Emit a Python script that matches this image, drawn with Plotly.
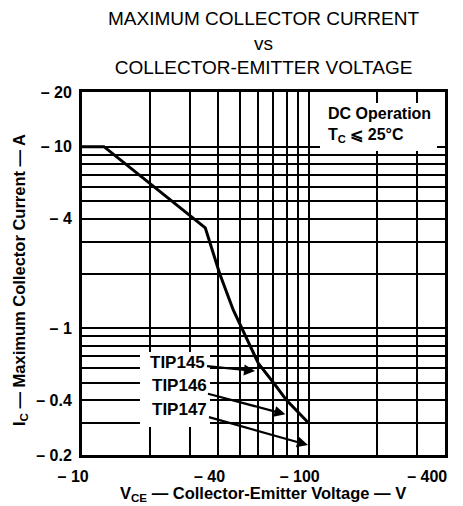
import numpy as np
import plotly.graph_objects as go

# ---- data ----
curve_v = [10, 12.5, 35, 40.5, 46.5, 50.7, 60, 70, 80, 100]          # |VCE| (V)
curve_i = [10, 10, 3.57, 2.0, 1.26, 1.0, 0.64, 0.5, 0.4, 0.3]       # |IC| (A)

device_names = ["TIP145", "TIP146", "TIP147"]
device_v = [58, 79, 99.4]
device_i = [0.58, 0.335, 0.227]

x_major = [10, 40, 100, 400]
x_major_labels = ["– 10", "– 40", "– 100", "– 400"]
x_minor = [20, 30, 50, 60, 70, 80, 90, 200, 300]
y_major = [0.2, 0.4, 1, 4, 10, 20]
y_major_labels = ["– 0.2", "– 0.4", "– 1", "– 4", "– 10", "– 20"]
y_minor = [0.3, 0.5, 0.6, 0.7, 0.8, 0.9, 2, 3, 5, 6, 7, 8, 9]

FONT = "Liberation Sans, Arial, Helvetica, sans-serif"
NB = "\u00a0"

# page body has an 8px margin: figure is shifted by (8, 8)
OFF = 8
FW, FH = 463 - OFF, 506 - OFF
L, T, W, H = 82 - OFF, 92 - OFF, 363, 363


def px(xp):
    return (xp - OFF - L) / W


def py(yp):
    return (T + H - (yp - OFF)) / H


fig = go.Figure()
fig.add_trace(go.Scatter(x=curve_v, y=curve_i, mode="lines",
                         line=dict(color="black", width=3), showlegend=False,
                         hoverinfo="skip"))

# right-pad the labels so the number (not the minus sign) sits on the grid line;
# the last one is padded more so that it stays inside the page
pads = [4, 4, 4, 8]
grid = dict(showgrid=True, gridcolor="black", gridwidth=2)
fig.update_xaxes(
    type="log", range=[1, np.log10(400)], automargin=False,
    tickmode="array", tickvals=x_major,
    ticktext=[t + NB * p for t, p in zip(x_major_labels, pads)],
    showline=True, mirror=True, linecolor="black", linewidth=3,
    ticks="", zeroline=False, ticklabelstandoff=5,
    ticklabeloverflow="allow",
    minor=dict(tickmode="array", tickvals=x_minor, ticks="", **grid),
    tickfont=dict(family=FONT, size=16, color="black", weight="bold"),
    **grid,
)
fig.update_yaxes(
    type="log", range=[np.log10(0.2), np.log10(20)], automargin=False,
    tickmode="array", tickvals=y_major, ticktext=y_major_labels,
    showline=True, mirror=True, linecolor="black", linewidth=3,
    ticks="", zeroline=False, ticklabelstandoff=4, ticklabeloverflow="allow",
    minor=dict(tickmode="array", tickvals=y_minor, ticks="", **grid),
    tickfont=dict(family=FONT, size=16, color="black", weight="bold"),
    **grid,
)

# white boxes that interrupt the grid behind the texts
fig.add_shape(type="rect", xref="paper", yref="paper",
              x0=px(320), x1=px(437), y0=py(151), y1=py(103),
              fillcolor="white", line=dict(width=0), layer="above")
fig.add_shape(type="rect", xref="paper", yref="paper",
              x0=px(140), x1=px(210), y0=py(427), y1=py(352),
              fillcolor="white", line=dict(width=0), layer="above")

fig.add_annotation(xref="paper", yref="paper", x=px(326), y=py(125),
                   xanchor="left", yanchor="middle", align="left", showarrow=False,
                   text="DC Operation<br>T<sub>C</sub> ⩽ 25°C",
                   font=dict(family=FONT, size=16, color="black", weight="bold"))

text_centers = [(178, 363), (179, 386), (180, 409)]
for name, v, i, (tx, ty) in zip(device_names, device_v, device_i, text_centers):
    hx = 82 + W * (np.log10(v) - 1) / np.log10(40)
    hy = 92 + H * (np.log10(20) - np.log10(i)) / 2
    fig.add_annotation(x=np.log10(v), y=np.log10(i), xref="x", yref="y",
                       text=name, showarrow=True, ax=tx - hx, ay=ty - hy,
                       arrowhead=2, arrowsize=1.0, arrowwidth=2.2, arrowcolor="black",
                       font=dict(family=FONT, size=17, color="black", weight="bold"))

fig.add_annotation(xref="paper", yref="paper", x=px(263), y=py(43),
                   showarrow=False, xanchor="center", yanchor="middle",
                   text="MAXIMUM COLLECTOR CURRENT<br>vs<br>COLLECTOR-EMITTER VOLTAGE",
                   font=dict(family=FONT, size=19, color="black"))
fig.add_annotation(xref="paper", yref="paper", x=px(263), y=py(494),
                   showarrow=False, xanchor="center", yanchor="middle",
                   text="V<sub>CE</sub> — Collector-Emitter Voltage — V",
                   font=dict(family=FONT, size=16.5, color="black", weight="bold"))
fig.add_annotation(xref="paper", yref="paper", x=px(20), y=py(280),
                   showarrow=False, xanchor="center", yanchor="middle", textangle=-90,
                   text="I<sub>C</sub> — Maximum Collector Current — A",
                   font=dict(family=FONT, size=16.5, color="black", weight="bold"))

fig.update_layout(
    width=FW, height=FH,
    margin=dict(l=L, r=FW - L - W, t=T, b=FH - T - H),
    paper_bgcolor="white", plot_bgcolor="white",
)

fig.write_html("out.html")
